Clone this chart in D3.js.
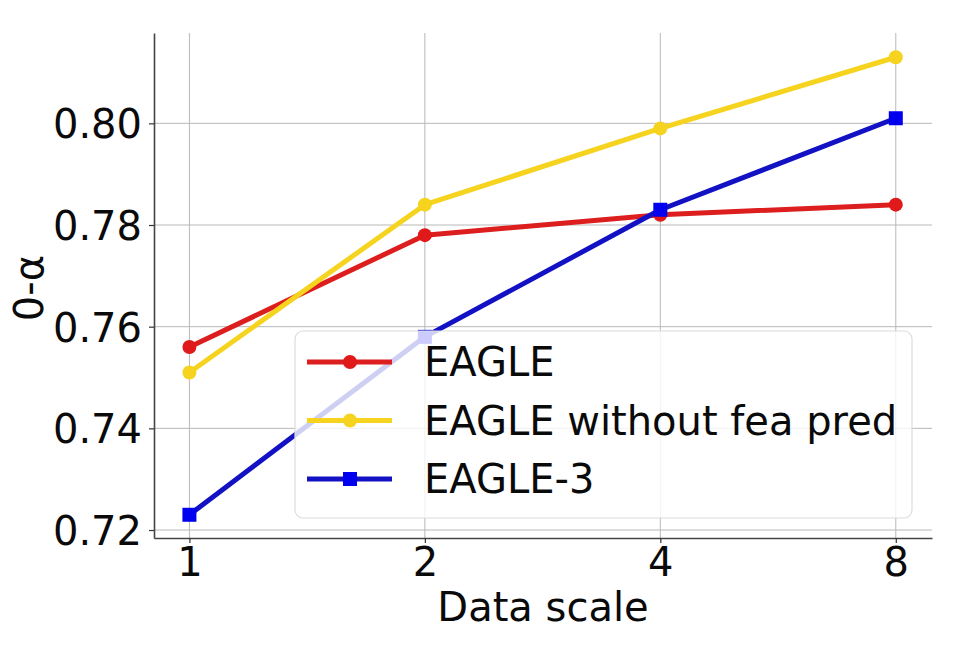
<!DOCTYPE html>
<html>
<head>
<meta charset="utf-8">
<script src="https://cdn.jsdelivr.net/npm/d3@7"></script>
<style>
  html, body { margin: 0; padding: 0; background: #fff; }
  svg { display: block; font-family: "DejaVu Sans", sans-serif; }
</style>
</head>
<body>
<svg id="chart" width="960" height="672"></svg>
<script>
const dataScales = [1, 2, 4, 8];
const yTicks = [0.72, 0.74, 0.76, 0.78, 0.80];
const seriesNames = ["EAGLE", "EAGLE without fea pred", "EAGLE-3"];
const eagle = [0.756, 0.778, 0.782, 0.784];
const eagleNoFea = [0.751, 0.784, 0.799, 0.813];
const eagle3 = [0.723, 0.758, 0.783, 0.801];
const seriesColors = ["#dc1e1e", "#f5d31e", "#1212c4"];
const markerColors = ["#e01a1a", "#f5d31e", "#0000ee"];
const markerShapes = ["circle", "circle", "square"];
const xLabel = "Data scale";
const yLabel = "0-α";

const seriesValues = [eagle, eagleNoFea, eagle3];

(function () {
const svg = d3.select("#chart");
const pL = 154, pR = 932, pT = 33, pB = 538;
const fontSize = 40;

const x = d3.scaleLog().base(2).domain([0.901, 8.9]).range([pL, pR]);
const y = d3.scaleLinear().domain([0.71843, 0.81777]).range([pB, pT]);

// grid
const grid = svg.append("g");
grid.selectAll("line.gx").data(dataScales).enter().append("line")
  .attr("x1", d => x(d)).attr("x2", d => x(d))
  .attr("y1", pT).attr("y2", pB)
  .attr("stroke", "#b8b8b8").attr("stroke-width", 1);
grid.selectAll("line.gy").data(yTicks).enter().append("line")
  .attr("x1", pL).attr("x2", pR)
  .attr("y1", d => y(d)).attr("y2", d => y(d))
  .attr("stroke", "#b8b8b8").attr("stroke-width", 1);

// axes
const xAxis = d3.axisBottom(x).tickValues(dataScales).tickFormat(d3.format("d"))
  .tickSizeInner(5).tickSizeOuter(0).tickPadding(5);
const yAxis = d3.axisLeft(y).tickValues(yTicks).tickFormat(d3.format(".2f"))
  .tickSizeInner(5).tickSizeOuter(0).tickPadding(7);

const gx = svg.append("g").attr("transform", `translate(0,${pB})`).call(xAxis);
const gy = svg.append("g").attr("transform", `translate(${pL},0)`).call(yAxis);
[gx, gy].forEach(g => {
  g.selectAll("text").attr("font-size", fontSize).attr("font-family", "DejaVu Sans").attr("fill", "#0a0a0a");
  g.selectAll(".tick line").attr("stroke", "#333").attr("stroke-width", 1.2);
  g.select(".domain").attr("stroke", "#444").attr("stroke-width", 1.6);
});
gy.selectAll("text").attr("dy", "0.36em");

// axis labels
svg.append("text").attr("x", (pL + pR) / 2).attr("y", 621)
  .attr("text-anchor", "middle").attr("font-size", fontSize).attr("fill", "#0a0a0a").text(xLabel);
svg.append("text").attr("transform", "translate(43,288) rotate(-90)")
  .attr("text-anchor", "middle").attr("font-size", fontSize).attr("fill", "#0a0a0a").text(yLabel);

// lines
const line = d3.line().x((d, i) => x(dataScales[i])).y(d => y(d));
function drawMarker(g, shape, cx, cy, color) {
  if (shape === "circle") {
    g.append("circle").attr("cx", cx).attr("cy", cy).attr("r", 7).attr("fill", color);
  } else {
    g.append("rect").attr("x", cx - 7).attr("y", cy - 7).attr("width", 14).attr("height", 14).attr("fill", color);
  }
}
seriesValues.forEach((vals, si) => {
  const g = svg.append("g");
  g.append("path").datum(vals).attr("d", line).attr("fill", "none")
    .attr("stroke", seriesColors[si]).attr("stroke-width", 5).attr("stroke-linejoin", "round");
  vals.forEach((v, i) => drawMarker(g, markerShapes[si], x(dataScales[i]), y(v), markerColors[si]));
});

// legend
const lg = svg.append("g");
lg.append("rect").attr("x", 295).attr("y", 331).attr("width", 617).attr("height", 187)
  .attr("rx", 8).attr("fill", "#fff").attr("fill-opacity", 0.8)
  .attr("stroke", "#dcdcdc").attr("stroke-width", 1.2);
seriesNames.forEach((name, si) => {
  const ry = 362 + si * 58.5;
  lg.append("line").attr("x1", 307).attr("x2", 392).attr("y1", ry).attr("y2", ry)
    .attr("stroke", seriesColors[si]).attr("stroke-width", 5);
  drawMarker(lg, markerShapes[si], 350, ry, markerColors[si]);
  lg.append("text").attr("x", 424).attr("y", ry).attr("dy", "0.36em")
    .attr("font-size", fontSize).attr("fill", "#0a0a0a").text(name);
});
})();
</script>
</body>
</html>
